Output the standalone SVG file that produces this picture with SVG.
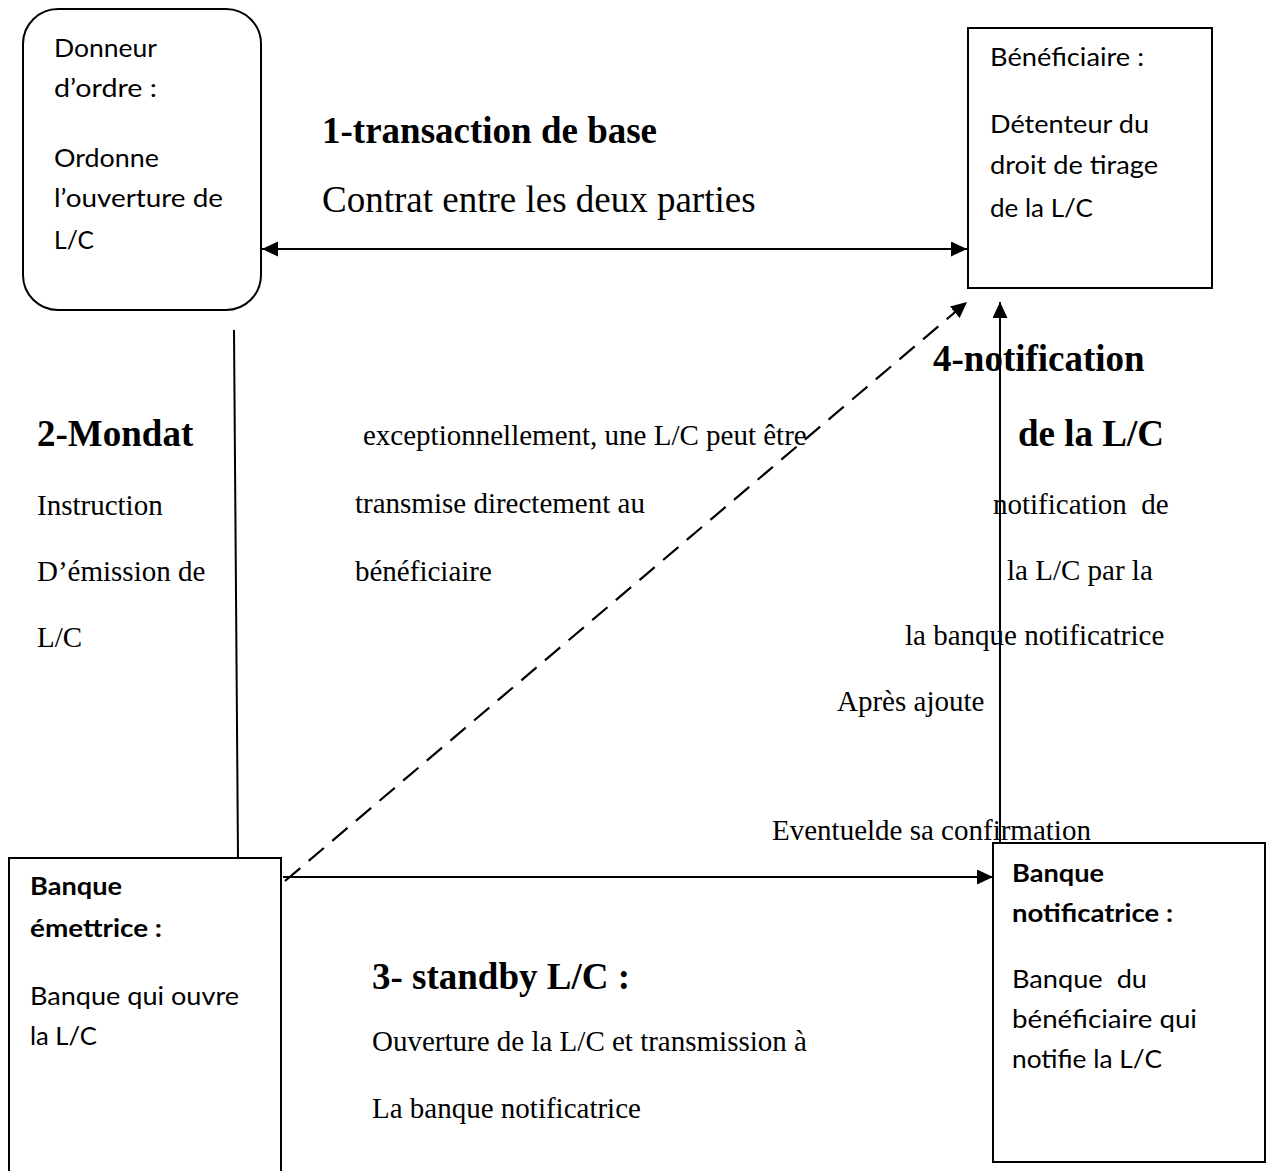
<svg xmlns="http://www.w3.org/2000/svg" width="1268" height="1171" viewBox="0 0 1268 1171">
  <style>
    .box { fill: #ffffff; stroke: #000000; stroke-width: 2; }
    .sans { font-family: Lato, "Open Sans", "Liberation Sans", sans-serif; font-size: 25px; fill: #000000; }
    .sans-b { font-family: Lato, "Open Sans", "Liberation Sans", sans-serif; font-size: 25px; font-weight: bold; fill: #000000; }
    .serif { font-family: "Liberation Serif", "Times New Roman", serif; font-size: 29px; fill: #000000; }
    .serif-lg { font-family: "Liberation Serif", "Times New Roman", serif; font-size: 37px; fill: #000000; }
    .serif-h { font-family: "Liberation Serif", "Times New Roman", serif; font-size: 37px; font-weight: bold; fill: #000000; }
    .link { fill: none; stroke: #000000; stroke-width: 2; }
    .dash { stroke-width: 2.2; stroke-dasharray: 20 11; }
  </style>
  <defs>
    <marker id="head" markerUnits="userSpaceOnUse" markerWidth="17" markerHeight="16" refX="16" refY="7.5" orient="auto-start-reverse">
      <path d="M0,0 L16,7.5 L0,15 z" fill="#000000"/>
    </marker>
  </defs>

  <rect width="1268" height="1171" fill="#ffffff"/>

  <!-- connectors -->
  <g id="connectors">
    <line class="link" x1="262" y1="249" x2="967" y2="249" marker-start="url(#head)" marker-end="url(#head)"/>
    <line class="link" x1="234" y1="330" x2="238" y2="858"/>
    <line class="link" x1="283" y1="877" x2="993" y2="877" marker-end="url(#head)"/>
    <line class="link dash" x1="285" y1="881" x2="967" y2="302" marker-end="url(#head)"/>
    <line class="link" x1="1000" y1="843" x2="1000" y2="302" marker-end="url(#head)"/>
  </g>

  <!-- applicant -->
  <g id="donneur-ordre">
    <rect class="box" x="23" y="9" width="238" height="301" rx="35" ry="35"/>
    <text class="sans" x="54" y="57" textLength="103" lengthAdjust="spacingAndGlyphs">Donneur</text>
    <text class="sans" x="54" y="97" textLength="103" lengthAdjust="spacingAndGlyphs">d’ordre :</text>
    <text class="sans" x="54" y="167" textLength="105" lengthAdjust="spacingAndGlyphs">Ordonne</text>
    <text class="sans" x="54" y="207" textLength="169" lengthAdjust="spacingAndGlyphs">l’ouverture de</text>
    <text class="sans" x="54" y="249" textLength="40" lengthAdjust="spacingAndGlyphs">L/C</text>
  </g>

  <!-- beneficiary -->
  <g id="beneficiaire">
    <rect class="box" x="968" y="28" width="244" height="260"/>
    <text class="sans" x="990" y="66" textLength="154" lengthAdjust="spacingAndGlyphs">Bénéficiaire :</text>
    <text class="sans" x="990" y="133" textLength="159" lengthAdjust="spacingAndGlyphs">Détenteur du</text>
    <text class="sans" x="990" y="174" textLength="168" lengthAdjust="spacingAndGlyphs">droit de tirage</text>
    <text class="sans" x="990" y="217" textLength="103" lengthAdjust="spacingAndGlyphs">de la L/C</text>
  </g>

  <!-- issuing bank -->
  <g id="banque-emettrice">
    <rect class="box" x="9" y="858" width="272" height="330"/>
    <text class="sans-b" x="30" y="895" textLength="92" lengthAdjust="spacingAndGlyphs">Banque</text>
    <text class="sans-b" x="30" y="937" textLength="132" lengthAdjust="spacingAndGlyphs">émettrice :</text>
    <text class="sans" x="30" y="1005" textLength="209" lengthAdjust="spacingAndGlyphs">Banque qui ouvre</text>
    <text class="sans" x="30" y="1045" textLength="67" lengthAdjust="spacingAndGlyphs">la L/C</text>
  </g>

  <!-- advising bank -->
  <g id="banque-notificatrice">
    <rect class="box" x="993" y="843" width="272" height="319"/>
    <text class="sans-b" x="1012" y="882" textLength="92" lengthAdjust="spacingAndGlyphs">Banque</text>
    <text class="sans-b" x="1012" y="922" textLength="161" lengthAdjust="spacingAndGlyphs">notificatrice :</text>
    <text class="sans" x="1012" y="988" textLength="135" lengthAdjust="spacingAndGlyphs" xml:space="preserve">Banque  du</text>
    <text class="sans" x="1012" y="1028" textLength="185" lengthAdjust="spacingAndGlyphs">bénéficiaire qui</text>
    <text class="sans" x="1012" y="1068" textLength="150" lengthAdjust="spacingAndGlyphs">notifie la L/C</text>
  </g>

  <!-- step 1 -->
  <g id="label-transaction">
    <text class="serif-h" x="322" y="143">1-transaction de base</text>
    <text class="serif-lg" x="322" y="212">Contrat entre les deux parties</text>
  </g>

  <!-- step 2 -->
  <g id="label-mandat">
    <text class="serif-h" x="37" y="446">2-Mondat</text>
    <text class="serif" x="37" y="515">Instruction</text>
    <text class="serif" x="37" y="581">D’émission de</text>
    <text class="serif" x="37" y="647">L/C</text>
  </g>

  <!-- direct transmission -->
  <g id="label-direct">
    <text class="serif" x="363" y="445">exceptionnellement, une L/C peut être</text>
    <text class="serif" x="355" y="513">transmise directement au</text>
    <text class="serif" x="355" y="581">bénéficiaire</text>
  </g>

  <!-- step 4 -->
  <g id="label-notification">
    <text class="serif-h" x="933" y="371">4-notification</text>
    <text class="serif-h" x="1018" y="446">de la L/C</text>
    <text class="serif" x="993" y="514" xml:space="preserve">notification  de</text>
    <text class="serif" x="1007" y="580">la L/C par la</text>
    <text class="serif" x="905" y="645">la banque notificatrice</text>
    <text class="serif" x="837" y="711">Après ajoute</text>
    <text class="serif" x="772" y="840">Eventuelde sa confirmation</text>
  </g>

  <!-- step 3 -->
  <g id="label-standby">
    <text class="serif-h" x="372" y="989">3- standby L/C :</text>
    <text class="serif" x="372" y="1051">Ouverture de la L/C et transmission à</text>
    <text class="serif" x="372" y="1118">La banque notificatrice</text>
  </g>
</svg>
